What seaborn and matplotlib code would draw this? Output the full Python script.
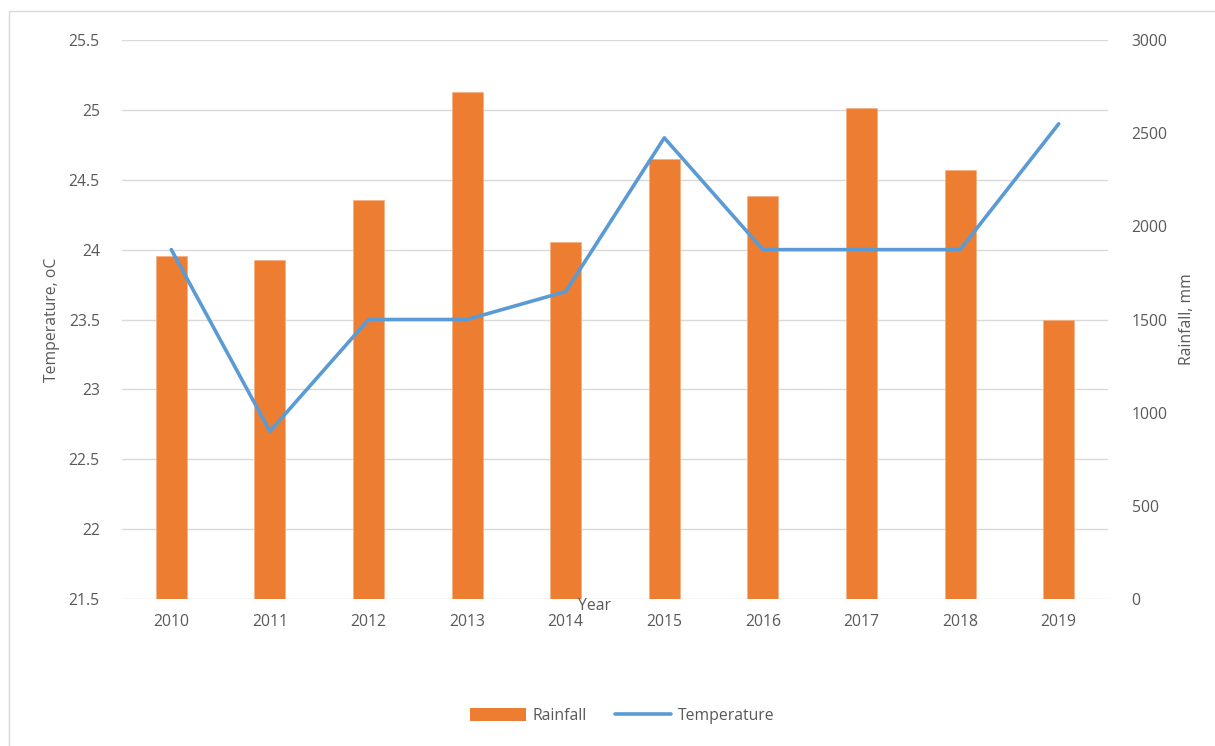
import matplotlib
matplotlib.use("Agg")
import matplotlib.pyplot as plt
import seaborn as sns
import pandas as pd
from matplotlib.lines import Line2D
from matplotlib.patches import Patch

years = ["2010", "2011", "2012", "2013", "2014", "2015", "2016", "2017", "2018", "2019"]
rainfall = [1841, 1821, 2140, 2719, 1918, 2363, 2164, 2637, 2304, 1500]
temperature = [24.0, 22.7, 23.5, 23.5, 23.7, 24.8, 24.0, 24.0, 24.0, 24.9]

df = pd.DataFrame({"Year": years, "Rainfall": rainfall, "Temperature": temperature})

sns.set_theme(style="white")
plt.rcParams["font.family"] = ["Open Sans", "DejaVu Sans"]

W, H = 1215, 746
fig = plt.figure(figsize=(W / 100, H / 100), dpi=100)
L, R, T, B = 122, 1108, 40, 599
ax = fig.add_axes([L / W, 1 - B / H, (R - L) / W, (B - T) / H])
ax2 = ax.twinx()

orange = "#ED7D31"
blue = "#5B9BD5"
tcol = "#595959"
grid = "#D9D9D9"
fs = 11.3

# Bars on secondary (rainfall) axis
sns.barplot(data=df, x="Year", y="Rainfall", ax=ax2, color=orange, width=0.315,
            saturation=1, edgecolor="#F4B183", linewidth=0.6)
ax2.set_ylim(0, 3000)
ax2.set_yticks(range(0, 3001, 500))

# Line on primary (temperature) axis
sns.lineplot(data=df, x="Year", y="Temperature", ax=ax, color=blue, linewidth=2.6,
             sort=False)
ax.set_ylim(21.5, 25.5)
ax.set_yticks([21.5, 22, 22.5, 23, 23.5, 24, 24.5, 25, 25.5])
ax.set_yticklabels(["21.5", "22", "22.5", "23", "23.5", "24", "24.5", "25", "25.5"])
ax.set_xlim(-0.5, len(years) - 0.5)
ax2.set_xlim(-0.5, len(years) - 0.5)

# Put line above bars
ax.set_zorder(ax2.get_zorder() + 1)
ax.patch.set_visible(False)

for y in ax.get_yticks():
    ax2.axhline(2999.999 * (y - 21.5) / 4.0, color=grid, linewidth=1.0, zorder=0)

for a in (ax, ax2):
    for s in a.spines.values():
        s.set_visible(False)
    a.tick_params(axis="both", length=0, colors=tcol, labelsize=fs)
    a.set_xlabel("")
    a.set_ylabel("")
    a.grid(False)

ax.tick_params(axis="y", pad=16)
ax2.tick_params(axis="y", pad=17)
ax.tick_params(axis="x", pad=11)
ax2.tick_params(axis="x", labelbottom=False)

ax.set_ylabel("Temperature, oC", color=tcol, fontsize=fs, labelpad=6)
ax2.set_ylabel("Rainfall, mm", color=tcol, fontsize=fs, labelpad=8)
fig.text(595 / W, 1 - 606 / H, "Year", color=tcol, fontsize=fs, ha="center", va="center")

handles = [Patch(facecolor=orange, edgecolor="none"),
           Line2D([0], [0], color=blue, linewidth=2.6)]
fig.legend(handles, ["Rainfall", "Temperature"], loc="center",
           bbox_to_anchor=(622 / W, 1 - 716 / H), ncol=2, frameon=False,
           fontsize=fs, labelcolor=tcol, handlelength=3.6, handleheight=0.9,
           columnspacing=1.8, handletextpad=0.4)

# Chart border
fig.add_artist(Line2D([8.5 / W, 8.5 / W], [0, 1 - 11 / H], transform=fig.transFigure,
                      color="#D9D9D9", linewidth=1.0))
fig.add_artist(Line2D([8.5 / W, 1], [1 - 11 / H, 1 - 11 / H], transform=fig.transFigure,
                      color="#D9D9D9", linewidth=1.0))

fig.savefig("out.png", dpi=100, facecolor="white")
